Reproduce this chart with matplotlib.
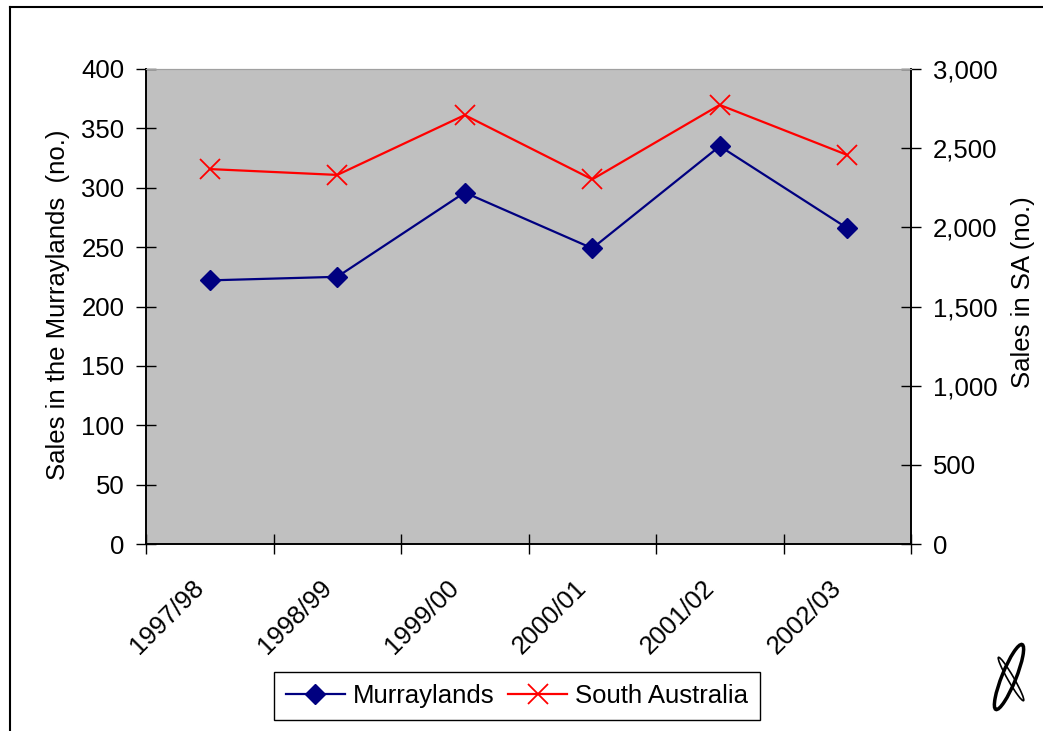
import matplotlib
matplotlib.use('Agg')
import matplotlib.pyplot as plt
from matplotlib.lines import Line2D
from matplotlib.patches import Ellipse
from matplotlib.transforms import ScaledTranslation
import numpy as np

plt.rcParams['font.family'] = ['Liberation Sans', 'DejaVu Sans']

years = ['1997/98', '1998/99', '1999/00', '2000/01', '2001/02', '2002/03']
murraylands = [222, 225, 296, 249, 335, 266]
south_australia = [2368, 2331, 2709, 2303, 2773, 2457]

fs = 18.5
fig = plt.figure(figsize=(10.43, 7.31), dpi=100)
ax = fig.add_axes([146/1043, 1-544/731, 765/1043, 475/731])
ax2 = ax.twinx()

x = np.arange(len(years)) + 0.5
l1, = ax.plot(x, murraylands, color='#000080', lw=1.6, marker='D', ms=10,
              label='Murraylands', zorder=3)
l2, = ax2.plot(x, south_australia, color='#ff0000', lw=1.6, marker='x', ms=14,
               mew=1.3, label='South Australia', zorder=3)

ax.set_facecolor('#c0c0c0')
ax.set_xlim(0, len(years))
ax.set_ylim(0, 400)
ax2.set_ylim(0, 3000)
ax.set_yticks(range(0, 401, 50))
ax2.set_yticks(range(0, 3001, 500))
ax2.set_yticklabels(['{:,}'.format(v) for v in range(0, 3001, 500)])

ax.set_xticks(range(len(years) + 1))
ax.set_xticklabels([])
ax.set_xticks(x, minor=True)
ax.set_xticklabels(years, minor=True, rotation=45, ha='right', va='top',
                   rotation_mode='anchor', fontsize=fs)
ax.tick_params(axis='x', which='minor', length=0, pad=14)
ax.tick_params(axis='x', which='major', direction='inout', length=15, width=1)
ax.tick_params(axis='y', direction='inout', length=15, width=1, labelsize=fs, pad=8)
ax2.tick_params(axis='y', direction='inout', length=15, width=1, labelsize=fs, pad=8)
for lbl in ax.get_xticklabels(minor=True):
    lbl.set_transform(lbl.get_transform() + ScaledTranslation(-0.18, -0.12, fig.dpi_scale_trans))

for a in (ax, ax2):
    a.spines['top'].set_color('#a0a0a0')
    a.spines['top'].set_linewidth(0.8)
    for s in ('left', 'right', 'bottom'):
        a.spines[s].set_linewidth(1.2)

fig.text(58/1043, 1-305/731, 'Sales in the Murraylands  (no.)', fontsize=fs,
         rotation=90, ha='center', va='center')
fig.text(1023/1043, 1-292/731, 'Sales in SA (no.)', fontsize=fs,
         rotation=90, ha='center', va='center')

leg = fig.legend(handles=[l1, l2], loc='center', bbox_to_anchor=(517/1043, 1-696/731),
                 ncol=2, fontsize=fs, frameon=True, fancybox=False, edgecolor='black',
                 framealpha=1, handlelength=2.3, handletextpad=0.3, columnspacing=0.55,
                 borderpad=0.45)
leg.get_frame().set_linewidth(1.0)

# outer chart frame
fig.add_artist(Line2D([10/1043, 10/1043], [1-7/731, -0.01], color='black', lw=1.5,
                      transform=fig.transFigure))
fig.add_artist(Line2D([10/1043, 1.01], [1-7/731, 1-7/731], color='black', lw=1.5,
                      transform=fig.transFigure))

# logo approximation
logo = fig.add_axes([985/1043, 1-712/731, 50/1043, 70/731])
logo.set_xlim(0, 50)
logo.set_ylim(0, 70)
logo.axis('off')
logo.add_patch(Ellipse((24, 35), 14, 70, angle=-22, fill=False, ec='black', lw=2.5))
logo.add_patch(Ellipse((26, 33), 6, 50, angle=30, fill=False, ec='black', lw=1.2))

fig.savefig('out.png', dpi=100)
